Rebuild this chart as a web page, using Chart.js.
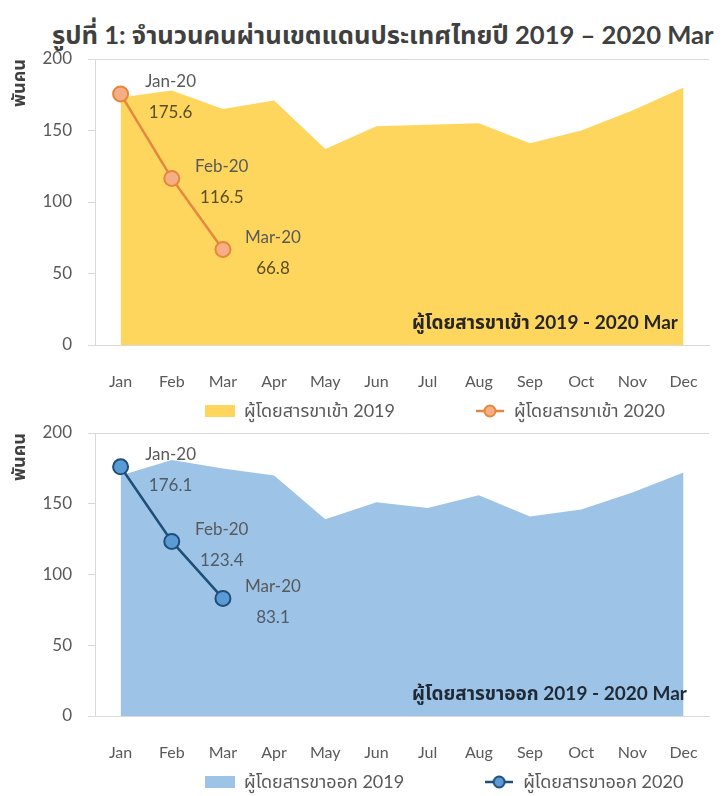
<!DOCTYPE html>
<html><head><meta charset="utf-8">
<script src="https://cdn.jsdelivr.net/npm/chart.js@4.4.1/dist/chart.umd.min.js"></script>
<style>
html,body{margin:0;padding:0;background:#fff;width:725px;height:796px;overflow:hidden;}
#title{position:absolute;left:52px;top:17px;font:bold 25.6px Lato,'Noto Sans Thai',Tahoma,sans-serif;color:#404040;white-space:nowrap;}
.wrap{position:absolute;left:0;width:725px;}
#w1{top:45px;height:385px;}
#w2{top:420px;height:376px;}
</style></head><body>
<div id="title">รูปที่ 1: จำนวนคนผ่านเขตแดนประเทศไทยปี 2019 – 2020 Mar</div>
<div class="wrap" id="w1"><canvas id="c1"></canvas></div>
<div class="wrap" id="w2"><canvas id="c2"></canvas></div>
<script>
const months = ['Jan','Feb','Mar','Apr','May','Jun','Jul','Aug','Sep','Oct','Nov','Dec'];
const inbound2019 = [173, 178, 165, 171, 137, 153, 154, 155, 141, 150, 164, 180];
const inbound2020 = [175.6, 116.5, 66.8];
const outbound2019 = [170, 181, 175, 170, 139, 151, 147, 156, 141, 146, 158, 172];
const outbound2020 = [176.1, 123.4, 83.1];
const pointLabels2020 = ['Jan-20', 'Feb-20', 'Mar-20'];
const yTicks = [0, 50, 100, 150, 200];

const FONT = "Lato, 'Noto Sans Thai', Tahoma, sans-serif";
const GRAY = '#595959';
const LINE_GRAY = '#d9d9d9';

function boxIcon(color) {
  const c = document.createElement('canvas');
  c.width = 30; c.height = 12;
  const x = c.getContext('2d');
  x.fillStyle = color; x.fillRect(0, 0, 30, 12);
  return c;
}
function lineIcon(line, fill) {
  const c = document.createElement('canvas');
  c.width = 28; c.height = 16;
  const x = c.getContext('2d');
  x.strokeStyle = line; x.lineWidth = 2.5;
  x.beginPath(); x.moveTo(0, 8); x.lineTo(28, 8); x.stroke();
  x.beginPath(); x.arc(14, 8, 5.5, 0, Math.PI * 2);
  x.fillStyle = fill; x.fill(); x.lineWidth = 2; x.stroke();
  return c;
}

const labelPlugin = {
  id: 'pointText',
  afterDatasetsDraw(chart, args, opts) {
    const ctx = chart.ctx;
    const meta = chart.getDatasetMeta(opts.datasetIndex);
    const ds = chart.data.datasets[opts.datasetIndex];
    ctx.save();
    ctx.font = '17px ' + FONT;
    ctx.textAlign = 'center';
    ctx.textBaseline = 'middle';
    meta.data.forEach((pt, i) => {
      ctx.fillStyle = opts.catColor;
      ctx.fillText(opts.labels[i], pt.x + 50, pt.y - 12);
      ctx.fillStyle = opts.valColor;
      ctx.fillText(ds.data[i].toFixed(1), pt.x + 50, pt.y + 19);
    });
    ctx.restore();
    const a = chart.chartArea;
    ctx.save();
    ctx.font = 'bold 19px ' + FONT;
    ctx.fillStyle = opts.captionColor;
    ctx.textAlign = 'left';
    ctx.textBaseline = 'middle';
    ctx.fillText(opts.caption, a.left + 317, a.bottom - 22);
    ctx.restore();
  },
  afterLayout(chart) {
    const lg = chart.legend;
    if (!lg) return;
    const pad = lg.options.labels.padding;
    const fs = lg.options.labels.font.size;
    lg.left = 205 - pad;
    lg.right = lg.left + 1000;
    const cy = chart.chartArea.bottom + 66;
    lg.top = cy - pad - fs / 2;
    lg.bottom = cy + fs + 10;
    lg.width = lg.right - lg.left;
    lg.height = lg.bottom - lg.top;
  }
};

function makeChart(id, area, line, areaColor, lineColor, pointFill, areaName, lineName, caption, padTop, padBottom, catColor, valColor, captionColor) {
  const icons = [boxIcon(areaColor), lineIcon(lineColor, pointFill)];
  return new Chart(document.getElementById(id), {
    type: 'line',
    data: {
      labels: months,
      datasets: [
        { label: areaName, data: area, fill: 'origin', backgroundColor: areaColor, borderWidth: 0, pointRadius: 0, tension: 0, order: 1 },
        { label: lineName, data: line, fill: false, borderColor: lineColor, borderWidth: 2.5, pointRadius: 7.5, pointBorderWidth: 2, pointBackgroundColor: pointFill, pointBorderColor: lineColor, tension: 0, order: 0 }
      ]
    },
    options: {
      responsive: true, maintainAspectRatio: false, animation: false,
      layout: { padding: { top: padTop, bottom: padBottom, left: 0, right: 0 } },
      plugins: {
        tooltip: { enabled: false },
        legend: {
          position: 'bottom', align: 'start', maxHeight: 30,
          labels: {
            usePointStyle: true, pointStyleWidth: 30, padding: 80,
            font: { size: 18, family: FONT }, color: GRAY,
            sort: (a, b) => a.datasetIndex - b.datasetIndex,
            generateLabels: (chart) => {
              const items = Chart.defaults.plugins.legend.labels.generateLabels(chart);
              items.forEach(it => { it.pointStyle = icons[it.datasetIndex]; it.lineWidth = 0; });
              return items;
            }
          }
        },
        pointText: { datasetIndex: 1, labels: pointLabels2020, catColor: catColor, valColor: valColor, caption: caption, captionColor: captionColor }
      },
      scales: {
        x: {
          type: 'category', offset: true,
          grid: { display: false, drawTicks: false },
          border: { display: true, color: LINE_GRAY, width: 1 },
          ticks: { font: { size: 16, family: FONT }, color: GRAY, padding: 27, maxRotation: 0, autoSkip: false },
          afterFit: s => { s.height = 45; }
        },
        y: {
          min: 0, max: 200,
          afterBuildTicks: s => { s.ticks = yTicks.map(v => ({ value: v })); },
          grid: { color: c => (c.tick && c.tick.value === 200) ? LINE_GRAY : 'rgba(0,0,0,0)', tickColor: LINE_GRAY, tickLength: 7, drawTicks: true },
          border: { display: true, color: LINE_GRAY, width: 1 },
          ticks: { font: { size: 17, family: FONT }, color: GRAY, padding: 16 },
          title: { display: true, text: 'พันคน', align: 'end', font: { size: 18, weight: 'bold', family: FONT }, color: '#404040', padding: { top: 8, bottom: 0 } },
          afterFit: s => { s.width = 95; s.paddingTop = 0; s.paddingBottom = 0; }
        }
      }
    },
    plugins: [labelPlugin]
  });
}

makeChart('c1', inbound2019, inbound2020, '#FED65E', '#E5873C', '#F6AE84',
  'ผู้โดยสารขาเข้า 2019', 'ผู้โดยสารขาเข้า 2020', 'ผู้โดยสารขาเข้า 2019 - 2020 Mar', 14, 10, GRAY, '#5c4e22', '#262626');
makeChart('c2', outbound2019, outbound2020, '#9DC3E6', '#1F4E79', '#5B9BD5',
  'ผู้โดยสารขาออก 2019', 'ผู้โดยสารขาออก 2020', 'ผู้โดยสารขาออก 2019 - 2020 Mar', 13, 5, GRAY, '#4f5b66', '#1f2a36');
</script>
</body></html>
